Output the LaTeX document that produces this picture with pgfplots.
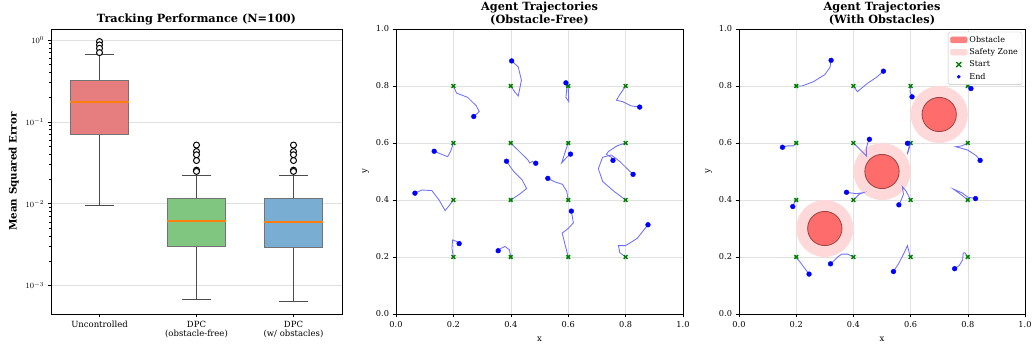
\documentclass[border=0pt]{standalone}
\usepackage{pgfplots}
\pgfplotsset{compat=1.18}
\usepgfplotslibrary{statistics}
\usepackage{fontspec}
\setmainfont{DejaVu Serif}
\definecolor{bred}{RGB}{230,125,126}
\definecolor{bgreen}{RGB}{128,198,128}
\definecolor{bblue}{RGB}{121,173,210}
\definecolor{morange}{RGB}{255,127,14}
\definecolor{obsred}{RGB}{255,108,108}
\definecolor{obsleg}{RGB}{255,128,128}
\definecolor{safepink}{RGB}{255,217,217}
\definecolor{trajblue}{RGB}{110,110,255}
\definecolor{startgreen}{RGB}{0,128,0}
\definecolor{gridgray}{RGB}{225,225,225}
\pgfplotsset{
  common/.style={
    scale only axis,
    axis line style={line width=0.8pt},
    tick align=outside,
    tick pos=left,
    major tick length=3.5pt,
    minor tick length=2pt,
    every tick/.style={black, line width=0.6pt},
    tick label style={font=\fontsize{8.2}{9}\selectfont},
    label style={font=\fontsize{8.5}{10}\selectfont},
    title style={font=\bfseries\fontsize{11.3}{12.5}\selectfont, align=center, yshift=-5.5pt},
    grid style={gridgray, line width=0.6pt},
    /pgf/number format/assume math mode=true,
  },
  traj/.style={trajblue, line width=0.85pt, no marks, forget plot},
  startm/.style={only marks, mark=x, mark size=2.6pt, startgreen, line width=1.5pt, forget plot},
  endm/.style={only marks, mark=*, mark size=2.4pt, blue, forget plot},
  bx/.style={boxplot prepared={#1}, draw=black!55, line width=0.9pt, mark=*, mark size=3pt, mark options={fill=white, draw=black, line width=1pt},
    boxplot/every median/.style={draw=morange, line width=1.3pt},
    boxplot/every whisker/.style={draw=black!70, line width=0.9pt},
    boxplot/every box/.style={draw=black!55, line width=0.9pt}},
}
\begin{document}
\begin{tikzpicture}[x=1pt,y=1pt]
\useasboundingbox (0,0) rectangle (1034,350);
% ---------- Panel 1 ----------
\begin{axis}[common,
  at={(51pt,36pt)}, anchor=south west,
  width=291pt, height=285pt,
  ymode=log, ymin=4.5e-4, ymax=1.36,
  xmin=0.5, xmax=3.5,
  xtick={1,2,3},
  xticklabels={Uncontrolled, {DPC\\(obstacle-free)}, {DPC\\(w/ obstacles)}},
  xticklabel style={align=center, font=\fontsize{8.5}{9.5}\selectfont},
  ymajorgrids,
  ytick={1e-3,1e-2,1e-1,1},
  ylabel={\bfseries Mean Squared Error},
  ylabel style={font=\bfseries\fontsize{10.3}{11}\selectfont},
  title={Tracking Performance (N=100)},
  boxplot/draw direction=y,
  boxplot/box extend=0.6,
  boxplot/whisker extend=0.3,
]
\addplot[bx={draw position=1, lower whisker=0.00946, lower quartile=0.0708, median=0.174, upper quartile=0.319, upper whisker=0.669}, fill=bred]
  coordinates {(0,0.955) (0,0.87) (0,0.79) (0,0.70)};
\addplot[bx={draw position=2, lower whisker=0.00067, lower quartile=0.0030, median=0.00614, upper quartile=0.0116, upper whisker=0.0224}, fill=bgreen]
  coordinates {(0,0.052) (0,0.0434) (0,0.0396) (0,0.0337) (0,0.0257) (0,0.0248)};
\addplot[bx={draw position=3, lower whisker=0.00064, lower quartile=0.00293, median=0.0060, upper quartile=0.0116, upper whisker=0.0224}, fill=bblue]
  coordinates {(0,0.052) (0,0.0434) (0,0.0396) (0,0.0337) (0,0.0257) (0,0.0248)};
\end{axis}
% ---------- Panel 2 ----------
\begin{axis}[common,
  at={(396pt,36pt)}, anchor=south west,
  width=287pt, height=285pt,
  xmin=0, xmax=1, ymin=0, ymax=1,
  xtick={0,0.2,0.4,0.6,0.8,1.0}, ytick={0,0.2,0.4,0.6,0.8,1.0},
  xticklabel style={/pgf/number format/.cd, fixed, fixed zerofill, precision=1},
  yticklabel style={/pgf/number format/.cd, fixed, fixed zerofill, precision=1},
  grid=major,
  xlabel={x}, ylabel={y},
  xlabel style={yshift=-3pt},
  title={Agent Trajectories\\(Obstacle-Free)},
]
\addplot[traj] coordinates {(0.2,0.8) (0.211,0.775) (0.25,0.76) (0.28,0.73) (0.29,0.71) (0.271,0.693)};
\addplot[traj] coordinates {(0.4,0.8) (0.413,0.78) (0.426,0.765) (0.437,0.82) (0.426,0.867) (0.403,0.888)};
\addplot[traj] coordinates {(0.6,0.8) (0.602,0.745) (0.592,0.76) (0.595,0.79) (0.592,0.811)};
\addplot[traj] coordinates {(0.8,0.8) (0.78,0.77) (0.768,0.75) (0.79,0.745) (0.82,0.73) (0.849,0.726)};
\addplot[traj] coordinates {(0.2,0.6) (0.19,0.57) (0.18,0.552) (0.16,0.56) (0.133,0.571)};
\addplot[traj] coordinates {(0.4,0.6) (0.43,0.57) (0.46,0.54) (0.466,0.53) (0.475,0.535) (0.487,0.529)};
\addplot[traj] coordinates {(0.6,0.6) (0.59,0.57) (0.577,0.53) (0.595,0.55) (0.608,0.561)};
\addplot[traj] coordinates {(0.8,0.6) (0.77,0.59) (0.74,0.57) (0.733,0.56) (0.75,0.55) (0.756,0.539)};
\addplot[traj] coordinates {(0.2,0.4) (0.185,0.38) (0.171,0.363) (0.15,0.4) (0.125,0.433) (0.09,0.435) (0.066,0.424)};
\addplot[traj] coordinates {(0.4,0.4) (0.43,0.42) (0.455,0.44) (0.44,0.47) (0.41,0.5) (0.385,0.536)};
\addplot[traj] coordinates {(0.6,0.4) (0.595,0.43) (0.58,0.455) (0.555,0.463) (0.529,0.476)};
\addplot[traj] coordinates {(0.8,0.4) (0.76,0.43) (0.72,0.465) (0.705,0.51) (0.72,0.55) (0.75,0.558) (0.78,0.535) (0.8,0.515) (0.826,0.49)};
\addplot[traj] coordinates {(0.2,0.2) (0.195,0.23) (0.197,0.26) (0.21,0.255) (0.22,0.247)};
\addplot[traj] coordinates {(0.4,0.2) (0.395,0.225) (0.38,0.237) (0.365,0.23) (0.356,0.222)};
\addplot[traj] coordinates {(0.6,0.2) (0.59,0.24) (0.579,0.284) (0.6,0.3) (0.618,0.32) (0.611,0.361)};
\addplot[traj] coordinates {(0.8,0.2) (0.78,0.215) (0.775,0.24) (0.8,0.24) (0.84,0.265) (0.878,0.313)};
\addplot[startm] coordinates {(0.2,0.8) (0.4,0.8) (0.6,0.8) (0.8,0.8) (0.2,0.6) (0.4,0.6) (0.6,0.6) (0.8,0.6) (0.2,0.4) (0.4,0.4) (0.6,0.4) (0.8,0.4) (0.2,0.2) (0.4,0.2) (0.6,0.2) (0.8,0.2)};
\addplot[endm] coordinates {(0.271,0.693) (0.403,0.888) (0.592,0.811) (0.849,0.726) (0.133,0.571) (0.487,0.529) (0.608,0.561) (0.756,0.539) (0.066,0.424) (0.385,0.536) (0.529,0.476) (0.826,0.49) (0.22,0.247) (0.356,0.222) (0.611,0.361) (0.878,0.313)};
\end{axis}
% ---------- Panel 3 ----------
\begin{axis}[common,
  at={(739pt,36pt)}, anchor=south west,
  width=286pt, height=285pt,
  xmin=0, xmax=1, ymin=0, ymax=1,
  xtick={0,0.2,0.4,0.6,0.8,1.0}, ytick={0,0.2,0.4,0.6,0.8,1.0},
  xticklabel style={/pgf/number format/.cd, fixed, fixed zerofill, precision=1},
  yticklabel style={/pgf/number format/.cd, fixed, fixed zerofill, precision=1},
  grid=major,
  xlabel={x}, ylabel={y},
  xlabel style={yshift=-3pt},
  title={Agent Trajectories\\(With Obstacles)},
  legend style={at={(0.99,0.99)}, anchor=north east, font=\fontsize{8}{9}\selectfont, draw=black!25, rounded corners=1.5pt, inner sep=2pt, row sep=0.8pt},
  legend cell align=left,
]
\addlegendimage{legend image code/.code={\fill[obsleg] (0pt,-3pt) rectangle (17pt,3pt);}}
\addlegendentry{Obstacle}
\addlegendimage{legend image code/.code={\fill[safepink] (0pt,-3pt) rectangle (17pt,3pt);}}
\addlegendentry{Safety Zone}
\addlegendimage{legend image code/.code={\draw[startgreen, line width=1.4pt] (6pt,-2.5pt) -- (11pt,2.5pt) (6pt,2.5pt) -- (11pt,-2.5pt);}}
\addlegendentry{Start}
\addlegendimage{legend image code/.code={\fill[blue] (8.5pt,0pt) circle[radius=1.6pt];}}
\addlegendentry{End}
\fill[safepink] (axis cs:0.3,0.3) circle[radius=0.1];
\fill[safepink] (axis cs:0.5,0.5) circle[radius=0.1];
\fill[safepink] (axis cs:0.7,0.7) circle[radius=0.1];
\filldraw[fill=obsred, draw=black!40!obsred, line width=0.8pt] (axis cs:0.3,0.3) circle[radius=0.06];
\filldraw[fill=obsred, draw=black!40!obsred, line width=0.8pt] (axis cs:0.5,0.5) circle[radius=0.06];
\filldraw[fill=obsred, draw=black!40!obsred, line width=0.8pt] (axis cs:0.7,0.7) circle[radius=0.06];
\addplot[traj] coordinates {(0.2,0.8) (0.22,0.8) (0.26,0.815) (0.3,0.84) (0.318,0.865) (0.322,0.89)};
\addplot[traj] coordinates {(0.4,0.8) (0.414,0.78) (0.45,0.81) (0.48,0.83) (0.505,0.852)};
\addplot[traj] coordinates {(0.6,0.8) (0.598,0.78) (0.605,0.762)};
\addplot[traj] coordinates {(0.8,0.8) (0.805,0.797) (0.811,0.791)};
\addplot[traj] coordinates {(0.2,0.6) (0.19,0.59) (0.17,0.59) (0.152,0.585)};
\addplot[traj] coordinates {(0.4,0.6) (0.42,0.58) (0.44,0.56) (0.446,0.554) (0.445,0.58) (0.45,0.6) (0.456,0.613)};
\addplot[traj] coordinates {(0.6,0.6) (0.592,0.57) (0.588,0.56) (0.595,0.59) (0.589,0.599)};
\addplot[traj] coordinates {(0.8,0.6) (0.78,0.59) (0.758,0.587) (0.8,0.575) (0.83,0.555) (0.843,0.539)};
\addplot[traj] coordinates {(0.2,0.4) (0.193,0.39) (0.188,0.377)};
\addplot[traj] coordinates {(0.4,0.4) (0.42,0.42) (0.435,0.426) (0.41,0.422) (0.39,0.425) (0.376,0.427)};
\addplot[traj] coordinates {(0.6,0.4) (0.585,0.43) (0.571,0.447) (0.575,0.42) (0.565,0.395) (0.559,0.383)};
\addplot[traj] coordinates {(0.8,0.4) (0.775,0.42) (0.75,0.438) (0.78,0.425) (0.8,0.41) (0.827,0.405)};
\addplot[traj] coordinates {(0.2,0.2) (0.215,0.18) (0.23,0.16) (0.245,0.14)};
\addplot[traj] coordinates {(0.4,0.2) (0.38,0.21) (0.359,0.21) (0.345,0.2) (0.33,0.185) (0.32,0.176)};
\addplot[traj] coordinates {(0.6,0.2) (0.595,0.215) (0.589,0.24) (0.58,0.22) (0.56,0.18) (0.54,0.149)};
\addplot[traj] coordinates {(0.8,0.2) (0.79,0.215) (0.784,0.214) (0.782,0.19) (0.77,0.17) (0.754,0.159)};
\addplot[startm] coordinates {(0.2,0.8) (0.4,0.8) (0.6,0.8) (0.8,0.8) (0.2,0.6) (0.4,0.6) (0.6,0.6) (0.8,0.6) (0.2,0.4) (0.4,0.4) (0.6,0.4) (0.8,0.4) (0.2,0.2) (0.4,0.2) (0.6,0.2) (0.8,0.2)};
\addplot[endm] coordinates {(0.322,0.89) (0.505,0.852) (0.605,0.762) (0.811,0.791) (0.152,0.585) (0.456,0.613) (0.589,0.599) (0.843,0.539) (0.188,0.377) (0.376,0.427) (0.559,0.383) (0.827,0.405) (0.245,0.14) (0.32,0.176) (0.54,0.149) (0.754,0.159)};
\end{axis}
\end{tikzpicture}
\end{document}
